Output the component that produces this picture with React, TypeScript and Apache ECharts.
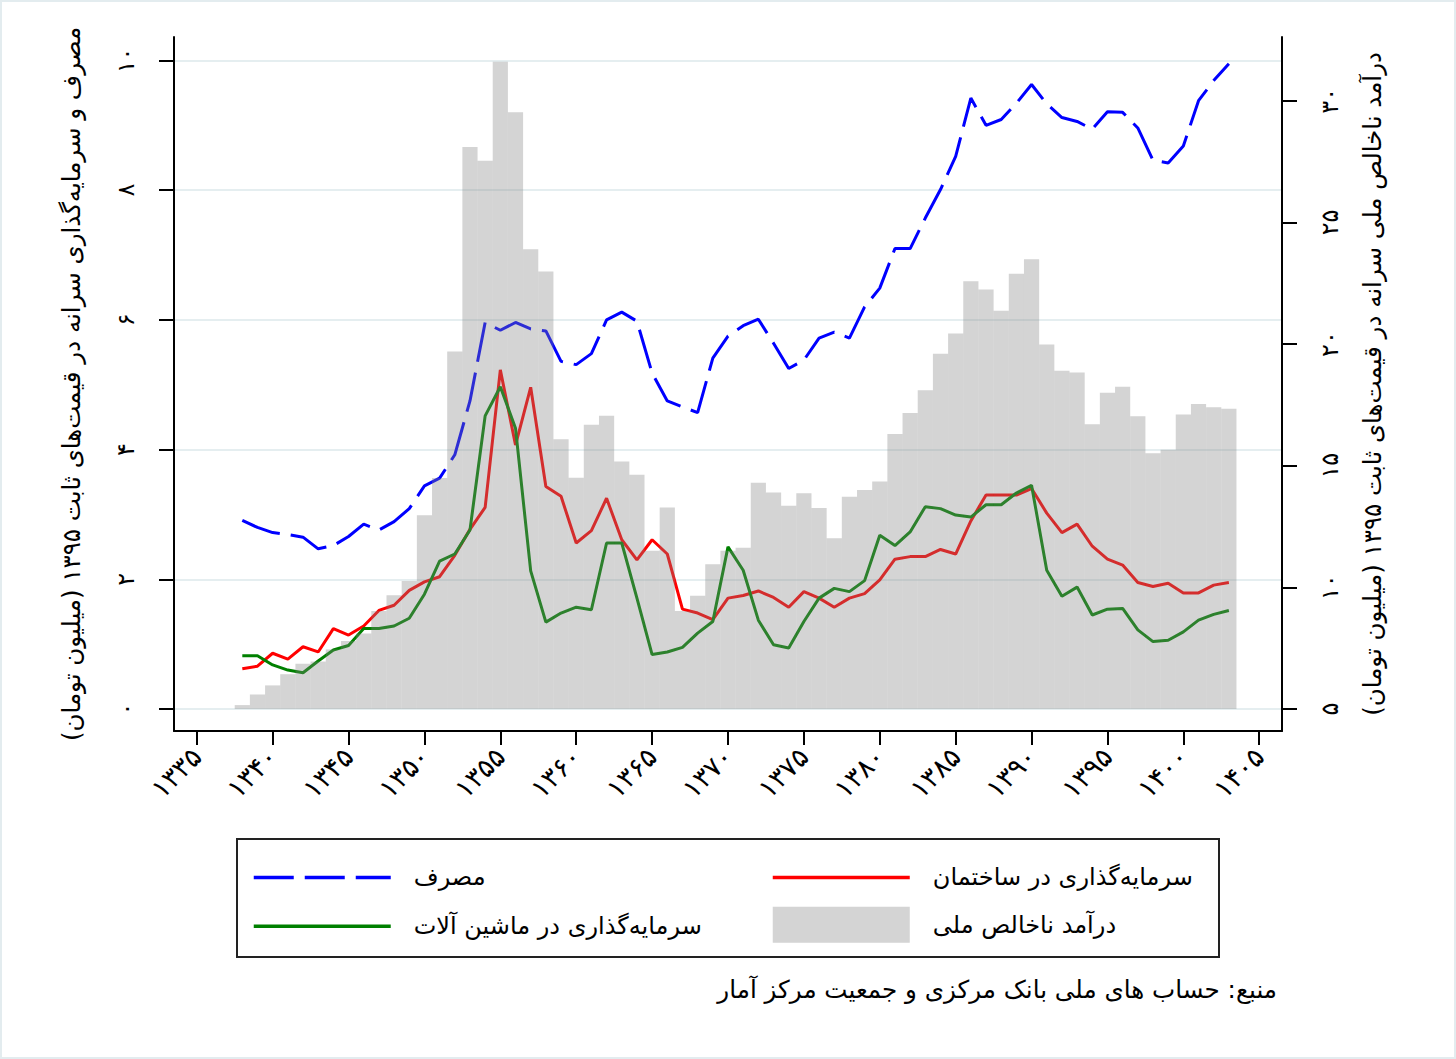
import { useEffect, useRef } from 'react';
import * as echarts from 'echarts';

// years with data (solar hijri)
const years = [
  1338, 1339, 1340, 1341, 1342, 1343, 1344, 1345, 1346, 1347, 1348, 1349,
  1350, 1351, 1352, 1353, 1354, 1355, 1356, 1357, 1358, 1359, 1360, 1361,
  1362, 1363, 1364, 1365, 1366, 1367, 1368, 1369, 1370, 1371, 1372, 1373,
  1374, 1375, 1376, 1377, 1378, 1379, 1380, 1381, 1382, 1383, 1384, 1385,
  1386, 1387, 1388, 1389, 1390, 1391, 1392, 1393, 1394, 1395, 1396, 1397,
  1398, 1399, 1400, 1401, 1402, 1403,
];

// per-capita GNI (right axis, million toman)
const gni = [
  5.16, 5.6, 5.97, 6.43, 6.86, 6.95, 7.45, 7.8, 8.1, 9.03, 9.68, 10.26,
  12.96, 14.49, 19.69, 28.1, 27.53, 31.6, 29.53, 23.9, 22.98, 16.09, 14.5, 16.68,
  17.05, 15.17, 14.63, 11.5, 13.28, 9.03, 9.65, 10.95, 11.5, 11.63, 14.3, 13.9,
  13.35, 13.87, 13.26, 12.02, 13.72, 14.0, 14.35, 16.3, 17.17, 18.1, 19.6, 20.43,
  22.58, 22.24, 21.37, 22.89, 23.49, 19.98, 18.9, 18.83, 16.7, 18.0, 18.24, 17.03,
  15.51, 15.66, 17.1, 17.54, 17.4, 17.34,
];

// consumption (left axis)
const consumption = [
  2.91, 2.8, 2.72, 2.69, 2.65, 2.47, 2.52, 2.66, 2.85, 2.76, 2.89, 3.09,
  3.44, 3.56, 3.92, 4.75, 5.96, 5.84, 5.96, 5.86, 5.83, 5.36, 5.31, 5.48,
  6.0, 6.12, 5.98, 5.18, 4.75, 4.66, 4.57, 5.41, 5.75, 5.91, 6.01, 5.64,
  5.25, 5.38, 5.72, 5.81, 5.72, 6.2, 6.49, 7.1, 7.1, 7.57, 8.01, 8.52,
  9.42, 9.0, 9.09, 9.34, 9.63, 9.33, 9.12, 9.06, 8.94, 9.21, 9.2, 8.96,
  8.46, 8.42, 8.68, 9.38, 9.69, 9.95,
];

// investment in buildings (left axis)
const construction = [
  0.62, 0.66, 0.86, 0.77, 0.96, 0.88, 1.24, 1.14, 1.28, 1.52, 1.6, 1.83,
  1.96, 2.04, 2.37, 2.77, 3.11, 5.23, 4.07, 4.96, 3.43, 3.28, 2.56, 2.75,
  3.25, 2.61, 2.3, 2.61, 2.39, 1.54, 1.48, 1.38, 1.71, 1.75, 1.82, 1.72,
  1.57, 1.81, 1.71, 1.57, 1.71, 1.78, 1.99, 2.31, 2.35, 2.35, 2.46, 2.39,
  2.9, 3.3, 3.3, 3.3, 3.4, 3.02, 2.72, 2.85, 2.51, 2.31, 2.22, 1.95,
  1.89, 1.94, 1.79, 1.79, 1.91, 1.95,
];

// investment in machinery (left axis)
const machinery = [
  0.82, 0.82, 0.68, 0.6, 0.56, 0.74, 0.91, 0.98, 1.24, 1.24, 1.28, 1.4,
  1.77, 2.28, 2.39, 2.76, 4.52, 4.97, 4.33, 2.13, 1.34, 1.48, 1.57, 1.53,
  2.56, 2.56, 1.71, 0.84, 0.88, 0.95, 1.17, 1.35, 2.5, 2.14, 1.37, 0.99,
  0.94, 1.35, 1.71, 1.86, 1.81, 1.98, 2.68, 2.52, 2.73, 3.12, 3.09, 2.99,
  2.96, 3.15, 3.15, 3.33, 3.45, 2.14, 1.74, 1.88, 1.45, 1.54, 1.55, 1.22,
  1.04, 1.06, 1.19, 1.37, 1.46, 1.52,
];

const leftTicks = [0, 2, 4, 6, 8, 10];
const rightTicks = [5, 10, 15, 20, 25, 30];
const gniBase = 5;
const axisFirst = 1334;
const axisLast = 1406;

const NAME_CONS = 'مصرف';
const NAME_BUILD = 'سرمایه‌گذاری در ساختمان';
const NAME_MACH = 'سرمایه‌گذاری در ماشین آلات';
const NAME_GNI = 'درآمد ناخالص ملی';
const RLM = '\u200F';
const LEFT_TITLE = 'مصرف و سرمایه‌گذاری سرانه در قیمت‌های ثابت ۱۳۹۵ (میلیون تومان)';
const RIGHT_TITLE = 'درآمد ناخالص ملی سرانه در قیمت‌های ثابت ۱۳۹۵ (میلیون تومان)';
const SOURCE = 'منبع: حساب های ملی بانک مرکزی و جمعیت مرکز آمار';

const FONT = '"DejaVu Sans", sans-serif';

const toFa = (v: string | number) =>
  String(v).replace(/\d/g, (d) => '۰۱۲۳۴۵۶۷۸۹'[Number(d)]);

const axisYears: string[] = [];
for (let y = axisFirst; y <= axisLast; y++) axisYears.push(String(y));

// put a series onto the full axis, nulls where there is no data
const pad = (vals: number[]) =>
  axisYears.map((y) => {
    const i = years.indexOf(Number(y));
    return i < 0 ? null : vals[i];
  });

const everyFive = (_i: number, v: string) => Number(v) % 5 === 0;

export default function App() {
  const chartRef = useRef<HTMLDivElement>(null);

  useEffect(() => {
    document.body.style.margin = '0';
    if (!chartRef.current) return;
    const chart = echarts.init(chartRef.current, undefined, { renderer: 'svg' });

    const lineSeries = (name: string, vals: number[], color: string, dashed: boolean) => ({
      name,
      type: 'line',
      yAxisIndex: 0,
      data: pad(vals),
      symbol: 'none',
      showSymbol: false,
      z: 2,
      itemStyle: { color },
      lineStyle: { color, width: 3, type: dashed ? [40, 11] : 'solid' },
    });

    // legend entry for a line: no marker, just the stroke
    const lineItem = (name: string) => ({
      name,
      itemStyle: { opacity: 0, color: 'transparent' },
      lineStyle: { width: 3.5 },
    });

    const legendBase = {
      orient: 'vertical',
      top: 858,
      itemWidth: 137,
      itemHeight: 36,
      itemGap: 15,
      selectedMode: false,
      textStyle: { fontSize: 24, color: '#000', fontFamily: FONT, padding: [0, 0, 0, 18] },
    };

    const option: any = {
      animation: false,
      backgroundColor: '#ffffff',
      textStyle: { fontFamily: FONT },
      grid: { left: 174, right: 174, top: 37, bottom: 328, containLabel: false },
      xAxis: {
        type: 'category',
        data: axisYears,
        boundaryGap: true,
        axisLine: { onZero: false, lineStyle: { color: '#000', width: 2 } },
        axisTick: {
          show: true,
          alignWithLabel: true,
          interval: everyFive,
          length: 14,
          lineStyle: { color: '#000', width: 2 },
        },
        axisLabel: {
          interval: everyFive,
          rotate: 45,
          margin: 21,
          fontSize: 27,
          color: '#000',
          fontFamily: FONT,
          formatter: (v: string) => toFa(v),
        },
        splitLine: { show: false },
      },
      yAxis: [
        {
          type: 'value',
          position: 'left',
          min: -0.339,
          max: 10.362,
          name: RLM + LEFT_TITLE + RLM,
          nameLocation: 'middle',
          nameRotate: 90,
          nameGap: 90,
          nameTextStyle: { fontSize: 24.5, color: '#000', fontFamily: FONT },
          axisLine: { show: true, lineStyle: { color: '#000', width: 2 } },
          axisTick: {
            show: true,
            length: 15,
            customValues: leftTicks,
            lineStyle: { color: '#000', width: 2 },
          },
          axisLabel: {
            rotate: 90,
            margin: 36,
            customValues: leftTicks,
            fontSize: 24,
            color: '#000',
            fontFamily: FONT,
            formatter: (v: number) => toFa(v),
          },
          splitLine: { show: true, lineStyle: { color: '#e5eef0', width: 2 } },
        },
        {
          type: 'value',
          position: 'right',
          min: 4.096,
          max: 32.62,
          name: RLM + RIGHT_TITLE + RLM,
          nameLocation: 'middle',
          nameRotate: 90,
          nameGap: 78,
          nameTextStyle: { fontSize: 24.5, color: '#000', fontFamily: FONT },
          axisLine: { show: true, lineStyle: { color: '#000', width: 2 } },
          axisTick: {
            show: true,
            length: 15,
            customValues: rightTicks,
            lineStyle: { color: '#000', width: 2 },
          },
          axisLabel: {
            rotate: 90,
            margin: 36,
            customValues: rightTicks,
            fontSize: 24,
            color: '#000',
            fontFamily: FONT,
            formatter: (v: number) => toFa(v),
          },
          splitLine: { show: false },
        },
      ],
      legend: [
        {
          ...legendBase,
          left: 247,
          itemGap: 20,
          data: [lineItem(NAME_CONS), lineItem(NAME_MACH)],
        },
        {
          ...legendBase,
          left: 766,
          data: [lineItem(NAME_BUILD), { name: NAME_GNI, icon: 'rect' }],
        },
      ],
      graphic: [
        {
          type: 'rect',
          shape: { x: 1, y: 1, width: 1454, height: 1057 },
          style: { fill: 'none', stroke: '#e3ecef', lineWidth: 2 },
          silent: true,
        },
        {
          type: 'rect',
          shape: { x: 237, y: 839, width: 982, height: 118 },
          style: { fill: 'none', stroke: '#222', lineWidth: 2 },
          silent: true,
        },
        {
          type: 'text',
          right: 179,
          top: 977,
          style: { text: RLM + SOURCE + RLM, fontSize: 24.6, fill: '#000', fontFamily: FONT },
          silent: true,
        },
      ],
      series: [
        {
          name: 'base',
          type: 'bar',
          yAxisIndex: 1,
          stack: 'gni',
          data: pad(gni.map(() => gniBase)),
          barWidth: '100%',
          barCategoryGap: '0%',
          itemStyle: { color: 'transparent' },
          silent: true,
          z: 3,
        },
        {
          name: NAME_GNI,
          type: 'bar',
          yAxisIndex: 1,
          stack: 'gni',
          data: pad(gni.map((v) => +(v - gniBase).toFixed(2))),
          barWidth: '100%',
          barCategoryGap: '0%',
          itemStyle: { color: 'rgba(130,130,130,0.345)' },
          z: 3,
        },
        lineSeries(NAME_CONS, consumption, '#0000ff', true),
        lineSeries(NAME_BUILD, construction, '#ff0000', false),
        lineSeries(NAME_MACH, machinery, '#008000', false),
      ],
    };

    chart.setOption(option);

    return () => {
      chart.dispose();
    };
  }, []);

  return <div ref={chartRef} style={{ width: 1456, height: 1059 }} />;
}
